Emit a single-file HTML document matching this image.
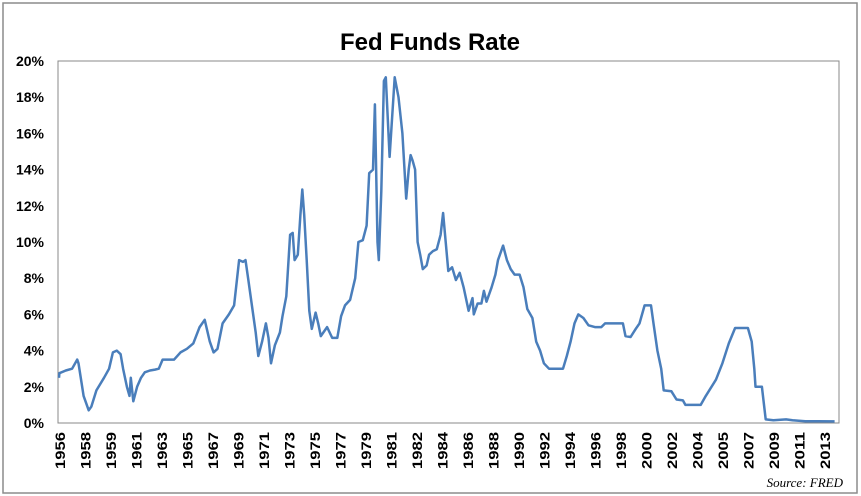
<!DOCTYPE html>
<html><head><meta charset="utf-8"><style>
body{margin:0;background:#fff;}
svg{display:block;font-family:"Liberation Sans",sans-serif;}
</style></head><body>
<svg id="chart" width="861" height="496">
<rect x="3" y="3" width="854" height="490" fill="#fff" stroke="#8c8c8c" stroke-width="1.5"/>
<text x="430" y="50" text-anchor="middle" font-size="24" font-weight="bold">Fed Funds Rate</text>
<rect x="58" y="61" width="781" height="362" fill="none" stroke="#888" stroke-width="1"/>
<g id="yaxis"></g><g id="xaxis"></g><g id="series"></g>
<text x="843" y="487" text-anchor="end" font-size="13" font-style="italic" font-family="Liberation Serif,serif">Source: FRED</text>
</svg>
<script>
const yTicks=[0,2,4,6,8,10,12,14,16,18,20];
const xLabels=[1956,1958,1959,1961,1963,1965,1967,1969,1971,1973,1975,1977,1979,1981,1982,1984,1986,1988,1990,1992,1994,1996,1998,2000,2002,2004,2005,2007,2009,2011,2013];
const dates=[1956.0,1956.5,1957.0,1957.5,1957.9,1958.0,1958.2,1958.4,1958.5,1958.7,1959.0,1959.4,1959.7,1960.0,1960.3,1960.5,1960.8,1961.0,1961.1,1961.3,1961.6,1961.9,1962.2,1962.6,1963.0,1963.3,1963.6,1964.0,1964.5,1965.0,1965.5,1966.0,1966.5,1966.9,1967.3,1967.6,1967.9,1968.3,1968.8,1969.2,1969.6,1969.9,1970.1,1970.3,1970.6,1970.9,1971.1,1971.4,1971.7,1971.9,1972.1,1972.4,1972.8,1973.0,1973.3,1973.6,1973.8,1973.95,1974.2,1974.4,1974.55,1974.7,1974.9,1975.1,1975.3,1975.6,1975.8,1976.0,1976.5,1976.9,1977.3,1977.6,1977.9,1978.3,1978.7,1978.95,1979.3,1979.6,1979.8,1980.1,1980.25,1980.45,1980.55,1980.75,1980.95,1981.05,1981.2,1981.4,1981.55,1981.7,1981.85,1981.95,1982.05,1982.2,1982.4,1982.6,1982.8,1983.0,1983.3,1983.5,1983.8,1984.1,1984.4,1984.6,1984.8,1985.0,1985.3,1985.6,1985.9,1986.2,1986.6,1986.9,1987.0,1987.3,1987.6,1987.8,1988.0,1988.4,1988.7,1988.9,1989.3,1989.6,1989.9,1990.2,1990.6,1990.9,1991.2,1991.6,1991.9,1992.2,1992.5,1992.9,1993.5,1994.0,1994.3,1994.6,1994.9,1995.2,1995.6,1996.0,1996.5,1997.0,1997.3,1998.0,1998.7,1998.9,1999.3,1999.7,2000.0,2000.4,2000.9,2001.1,2001.4,2001.7,2001.9,2002.5,2002.9,2003.4,2003.6,2004.4,2004.6,2005.0,2005.5,2006.0,2006.5,2007.5,2007.8,2008.0,2008.1,2008.6,2008.9,2009.5,2010.5,2011.0,2012.0,2013.0,2014.3];
const rates=[2.5,2.75,2.9,3.0,3.5,3.3,1.5,0.7,0.9,1.8,2.5,3.0,3.9,4.0,3.8,3.0,2.0,1.5,2.5,1.2,2.0,2.5,2.8,2.9,2.95,3.0,3.5,3.5,3.5,3.9,4.1,4.4,5.3,5.7,4.5,3.9,4.1,5.5,6.0,6.5,9.0,8.9,9.0,8.0,6.5,5.0,3.7,4.5,5.5,4.7,3.3,4.3,5.0,5.9,7.0,10.4,10.5,9.0,9.3,11.5,12.9,11.5,9.0,6.2,5.2,6.1,5.5,4.8,5.3,4.7,4.7,5.9,6.5,6.8,8.0,10.0,10.1,10.9,13.8,14.0,17.6,10.0,9.0,12.8,18.9,19.1,14.7,19.1,18.0,16.0,12.4,14.0,14.8,14.5,14.0,10.0,9.3,8.5,8.7,9.3,9.5,9.6,10.4,11.6,10.0,8.4,8.6,7.9,8.3,7.5,6.2,6.9,6.0,6.6,6.6,7.3,6.7,7.5,8.2,9.0,9.8,9.0,8.5,8.2,8.2,7.5,6.3,5.8,4.5,4.0,3.3,3.0,3.0,3.0,3.7,4.5,5.5,6.0,5.8,5.4,5.3,5.3,5.5,5.5,5.5,4.8,4.75,5.2,5.5,6.5,6.5,5.5,4.0,3.0,1.8,1.75,1.3,1.25,1.0,1.0,1.5,2.4,3.3,4.4,5.25,5.25,4.5,3.0,2.0,2.0,0.2,0.15,0.2,0.15,0.1,0.1,0.09];
const NS="http://www.w3.org/2000/svg";
const L=58,R=839,T=61,B=423,lx0=60,lstep=25.5,shift=-7;
function yS(v){return B-(v/20)*(B-T);}
function xS(d){
  for(let i=0;i<xLabels.length-1;i++){
    if(d<=xLabels[i+1]||i===xLabels.length-2){
      const a=xLabels[i],b=xLabels[i+1];
      return Math.max(L+1,Math.min(R-1,lx0+shift+i*lstep+(d-a)/(b-a)*lstep));
    }
  }
}
const ya=document.getElementById('yaxis');
yTicks.forEach(v=>{
  const t=document.createElementNS(NS,'text');
  t.setAttribute('x',44);t.setAttribute('y',yS(v)+5);
  t.setAttribute('text-anchor','end');t.setAttribute('font-size','14');t.setAttribute('font-weight','bold');
  t.textContent=v+'%';
  
  
  ya.appendChild(t);
});
const xa=document.getElementById('xaxis');
xLabels.forEach((yr,i)=>{
  const x=lx0+i*lstep;
  const t=document.createElementNS(NS,'text');
  t.setAttribute('transform','translate('+(x+5)+',432) rotate(-90)');
  t.setAttribute('text-anchor','end');t.setAttribute('font-size','14');t.setAttribute('font-weight','bold');
  t.setAttribute('textLength','37');t.setAttribute('lengthAdjust','spacingAndGlyphs');
  t.textContent=yr;
  
  
  xa.appendChild(t);
});
const p=document.createElementNS(NS,'polyline');
p.setAttribute('points',dates.map((d,i)=>xS(d).toFixed(1)+','+yS(rates[i]).toFixed(1)).join(' '));
p.setAttribute('fill','none');p.setAttribute('stroke','#4a7ebb');p.setAttribute('stroke-width','2.5');p.setAttribute('stroke-linejoin','round');


document.getElementById('series').appendChild(p);
</script>
</body></html>
